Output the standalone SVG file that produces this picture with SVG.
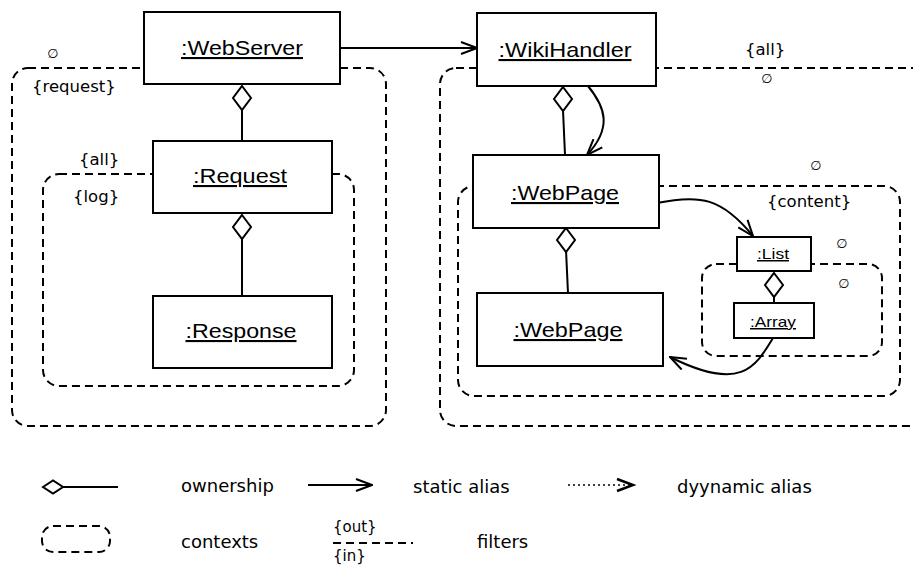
<svg xmlns="http://www.w3.org/2000/svg" width="913" height="567" viewBox="0 0 913 567">
<style>
.ctx{fill:none;stroke:#000;stroke-width:2;stroke-dasharray:8 5}
.box{fill:#fff;stroke:#000;stroke-width:2}
.ln{fill:none;stroke:#000;stroke-width:2}
.dia{fill:#fff;stroke:#000;stroke-width:2}
.nl{font-family:"Liberation Sans",Arial,sans-serif;font-size:21px;text-anchor:middle;text-decoration:underline;fill:#000}
.sl{font-family:"Liberation Sans",Arial,sans-serif;font-size:15px;text-anchor:middle;text-decoration:underline;fill:#000}
.lb{font-family:"DejaVu Sans",sans-serif;font-size:16.5px;fill:#000}
.em{font-family:"DejaVu Sans",sans-serif;font-size:13px;text-anchor:middle;fill:#000}
.lg{font-family:"DejaVu Sans",sans-serif;font-size:18px;fill:#000}
.lf{font-family:"DejaVu Sans",sans-serif;font-size:15px;fill:#000}
</style>
<defs>
<marker id="open" viewBox="-1 -1 18 14" refX="16" refY="6" markerWidth="18" markerHeight="14" markerUnits="userSpaceOnUse" orient="auto">
<path d="M0,0 L16,6 L0,12" fill="none" stroke="#000" stroke-width="2"/>
</marker>
</defs>

<g id="contexts">
<rect id="ctx-request" class="ctx" x="12" y="68" width="374" height="358" rx="16"/>
<rect id="ctx-log" class="ctx" x="43" y="174" width="311" height="212" rx="16"/>
<rect id="ctx-all" class="ctx" x="440" y="68" width="500" height="358" rx="16"/>
<rect id="ctx-content" class="ctx" x="458" y="186" width="442" height="210" rx="16"/>
<rect id="ctx-inner" class="ctx" x="702" y="264" width="180" height="92" rx="14"/>
</g>

<g id="context-labels">
<text class="em" x="53" y="58">∅</text>
<text class="lb" x="32" y="92">{request}</text>
<text class="lb" x="79" y="165">{all}</text>
<text class="lb" x="73" y="202">{log}</text>
<text class="lb" x="745" y="55">{all}</text>
<text class="em" x="767" y="83">∅</text>
<text class="em" x="816" y="170">∅</text>
<text class="lb" x="767" y="207">{content}</text>
<text class="em" x="842" y="248">∅</text>
<text class="em" x="844" y="288">∅</text>
</g>

<g id="connectors">
<line class="ln" x1="340" y1="48" x2="477" y2="48" marker-end="url(#open)"/>
<line class="ln" x1="242" y1="110" x2="242" y2="141"/>
<path class="dia" d="M242,86 L251,98 L242,110 L233,98 Z"/>
<line class="ln" x1="242" y1="239" x2="242" y2="296"/>
<path class="dia" d="M242,215 L251,227 L242,239 L233,227 Z"/>
<line class="ln" x1="563" y1="110" x2="565" y2="155"/>
<path class="dia" d="M563,87 L572,99 L563,111 L554,99 Z"/>
<path class="ln" d="M588,86 C606,108 612,128 587,155" marker-end="url(#open)"/>
<line class="ln" x1="566" y1="250" x2="568" y2="293"/>
<path class="dia" d="M566,228 L575,240 L566,252 L557,240 Z"/>
<path class="ln" d="M657,203 C700,194 722,198 753,236" marker-end="url(#open)"/>
<line class="ln" x1="774" y1="296" x2="774" y2="303"/>
<path class="dia" d="M774,273 L783,285 L774,297 L765,285 Z"/>
<path class="ln" d="M773,338 C755,368 740,392 670,357" marker-end="url(#open)"/>
</g>

<g id="node-webserver">
<rect class="box" x="144" y="12" width="196" height="72"/>
<text class="nl" x="242" y="55" textLength="122" lengthAdjust="spacingAndGlyphs">:WebServer</text>
</g>
<g id="node-wikihandler">
<rect class="box" x="477" y="13" width="179" height="73"/>
<text class="nl" x="565" y="57" textLength="133" lengthAdjust="spacingAndGlyphs">:WikiHandler</text>
</g>
<g id="node-request">
<rect class="box" x="153" y="141" width="179" height="72"/>
<text class="nl" x="240" y="183" textLength="94" lengthAdjust="spacingAndGlyphs">:Request</text>
</g>
<g id="node-response">
<rect class="box" x="153" y="296" width="179" height="72"/>
<text class="nl" x="241" y="338" textLength="111" lengthAdjust="spacingAndGlyphs">:Response</text>
</g>
<g id="node-webpage1">
<rect class="box" x="473" y="155" width="186" height="73"/>
<text class="nl" x="565" y="200" textLength="108" lengthAdjust="spacingAndGlyphs">:WebPage</text>
</g>
<g id="node-webpage2">
<rect class="box" x="477" y="293" width="186" height="73"/>
<text class="nl" x="568" y="337" textLength="109" lengthAdjust="spacingAndGlyphs">:WebPage</text>
</g>
<g id="node-list">
<rect class="box" x="737" y="237" width="74" height="34"/>
<text class="sl" x="773" y="259" textLength="32" lengthAdjust="spacingAndGlyphs">:List</text>
</g>
<g id="node-array">
<rect class="box" x="734" y="303" width="80" height="35"/>
<text class="sl" x="773" y="327" textLength="46" lengthAdjust="spacingAndGlyphs">:Array</text>
</g>

<g id="legend">
<path class="dia" d="M43,487 L53,480.5 L63,487 L53,493.5 Z"/>
<line class="ln" x1="63" y1="487" x2="118" y2="487"/>
<text class="lg" x="181" y="492">ownership</text>
<line class="ln" x1="308" y1="485" x2="372" y2="485" marker-end="url(#open)"/>
<text class="lg" x="413" y="493">static alias</text>
<line x1="568" y1="485" x2="630" y2="485" stroke="#000" stroke-width="1.5" stroke-dasharray="2 3"/>
<path d="M617,479 L633,485 L617,491" fill="none" stroke="#000" stroke-width="2.5"/>
<text class="lg" x="677" y="493">dyynamic alias</text>
<rect class="ctx" x="42" y="526" width="68" height="26" rx="11"/>
<text class="lg" x="181" y="548">contexts</text>
<text class="lf" x="333" y="532">{out}</text>
<line x1="333" y1="543" x2="413" y2="543" stroke="#000" stroke-width="2" stroke-dasharray="8 5"/>
<text class="lf" x="333" y="561">{in}</text>
<text class="lg" x="477" y="548">filters</text>
</g>
</svg>
